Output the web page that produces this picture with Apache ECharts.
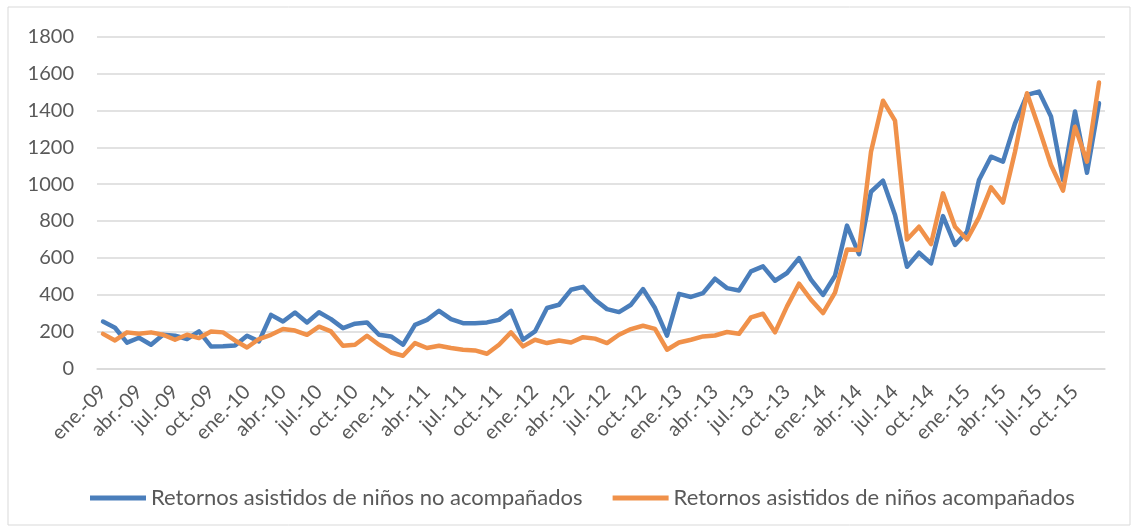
<!DOCTYPE html>
<html>
<head>
<meta charset="utf-8">
<script src="https://cdn.jsdelivr.net/npm/echarts@6/dist/echarts.min.js"></script>
<style>
  html, body { margin: 0; padding: 0; background: #fff; }
  #chart { width: 1140px; height: 531px; }
</style>
</head>
<body>
<div id="chart"></div>
<script>
  // meses y años del eje
  var monthNames = ['ene.', 'feb.', 'mar.', 'abr.', 'may.', 'jun.', 'jul.', 'ago.', 'sept.', 'oct.', 'nov.', 'dic.'];
  var years = ['09', '10', '11', '12', '13', '14', '15'];

  var seriesNames = ['Retornos asistidos de niños no acompañados', 'Retornos asistidos de niños acompañados'];

  // no acompañados (azul)
  var noAcompanados = [
    255, 221, 140, 167, 129, 183, 178, 160, 201, 120, 121, 125,
    178, 147, 291, 255, 304, 250, 305, 268, 219, 243, 250, 183,
    174, 129, 237, 264, 313, 268, 246, 246, 250, 264, 313, 156,
    201, 328, 346, 427, 443, 373, 322, 306, 346, 431, 328, 178,
    405, 388, 409, 487, 436, 423, 527, 554, 476, 518, 599, 482,
    399, 503, 775, 620, 959, 1019, 833, 552, 628, 570, 827, 670,
    742, 1023, 1149, 1122, 1330, 1484, 1502, 1367, 1023, 1394, 1062, 1439
  ];

  // acompañados (naranja)
  var acompanados = [
    188, 152, 196, 188, 196, 183, 156, 183, 165, 201, 196, 152,
    114, 160, 183, 214, 206, 183, 227, 201, 123, 129, 178, 129,
    87, 69, 138, 111, 123, 111, 102, 98, 80, 129, 196, 120,
    156, 138, 152, 141, 170, 162, 138, 183, 214, 232, 215, 102,
    141, 156, 174, 179, 198, 188, 277, 297, 196, 337, 460, 373,
    301, 412, 645, 643, 1176, 1453, 1345, 700, 769, 675, 950, 769,
    700, 820, 983, 900, 1176, 1493, 1303, 1104, 965, 1312, 1122, 1551
  ];

  var categories = [];
  years.forEach(function (y) {
    monthNames.forEach(function (m) {
      categories.push(m + '-' + y);
    });
  });

  var font = 'Lato, "Liberation Sans", sans-serif';
  var chart = echarts.init(document.getElementById('chart'));

  var option = {
    animation: false,
    textStyle: { fontFamily: font },
    graphic: [{
      type: 'rect',
      shape: { x: 8, y: 7, width: 1122, height: 518 },
      style: { fill: 'none', stroke: '#d9d9d9', lineWidth: 1 },
      silent: true
    }],
    legend: {
      left: 85,
      top: 482,
      itemWidth: 56,
      itemHeight: 5,
      itemGap: 30,
      icon: 'rect',
      textStyle: { fontSize: 22, color: '#595959', fontFamily: font },
      data: seriesNames
    },
    grid: {
      left: 97,
      right: 35,
      top: 36.7,
      bottom: 162.5,
      containLabel: false
    },
    xAxis: {
      type: 'category',
      boundaryGap: true,
      data: categories,
      axisLine: { lineStyle: { color: '#d9d9d9', width: 1.5 } },
      axisTick: { show: false },
      axisLabel: {
        interval: 2,
        rotate: 45,
        margin: 20,
        fontSize: 20,
        color: '#595959',
        fontFamily: font
      }
    },
    yAxis: {
      type: 'value',
      min: 0,
      max: 1800,
      interval: 200,
      axisLine: { show: false },
      axisTick: { show: false },
      splitLine: { lineStyle: { color: '#d9d9d9', width: 1.5 } },
      axisLabel: {
        margin: 23,
        fontSize: 20,
        color: '#595959',
        fontFamily: font,
        formatter: function (v) { return String(v); }
      }
    },
    series: [
      {
        name: seriesNames[0],
        type: 'line',
        data: noAcompanados,
        symbol: 'none',
        itemStyle: { color: '#4a7ebb' },
        lineStyle: { color: '#4a7ebb', width: 4.5, join: 'round', cap: 'round' }
      },
      {
        name: seriesNames[1],
        type: 'line',
        data: acompanados,
        symbol: 'none',
        itemStyle: { color: '#f0914a' },
        lineStyle: { color: '#f0914a', width: 4.5, join: 'round', cap: 'round' }
      }
    ]
  };

  chart.setOption(option);
</script>
</body>
</html>
